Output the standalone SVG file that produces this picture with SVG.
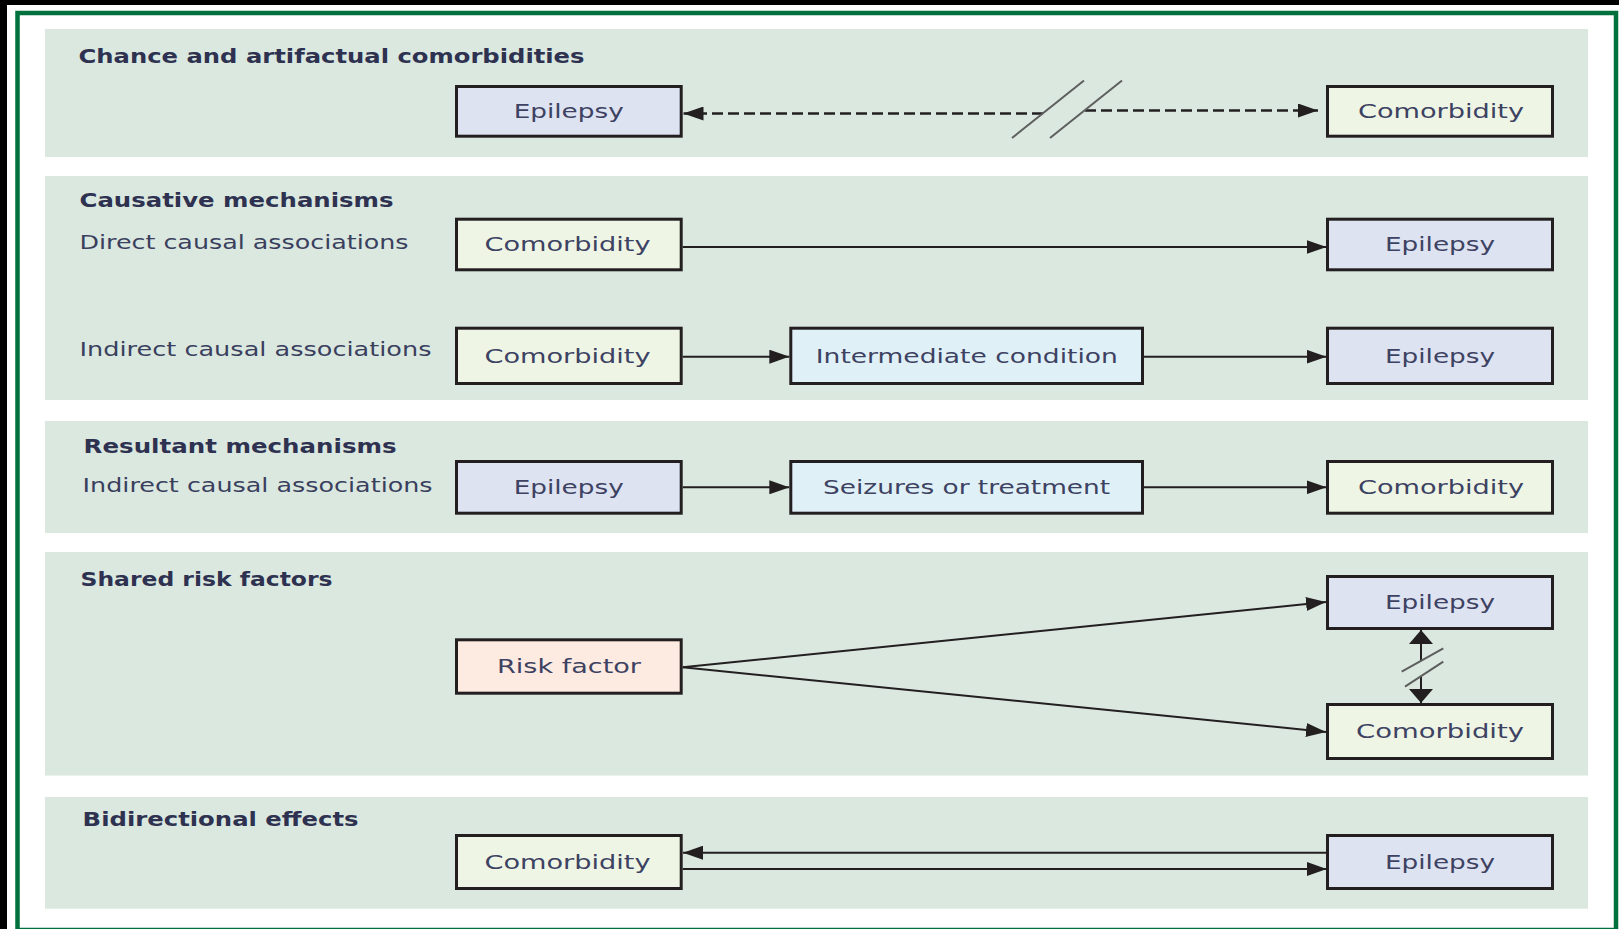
<svg xmlns="http://www.w3.org/2000/svg" width="1619" height="929" viewBox="0 0 1619 929">
<defs>
<style>
.panel{fill:#dae8e0;}
.box{stroke:#231f20;stroke-width:3;}
.epi{fill:#dde3f1;}
.com{fill:#eef5e5;}
.mid{fill:#e0f0f7;}
.risk{fill:#fdeae0;}
.hdr{font-family:"DejaVu Sans","Liberation Sans",Arial,sans-serif;font-size:20px;font-weight:bold;fill:#2e3250;}
.sub{font-family:"DejaVu Sans","Liberation Sans",Arial,sans-serif;font-size:20px;fill:#3a3f5e;}
.lbl{font-family:"DejaVu Sans","Liberation Sans",Arial,sans-serif;font-size:20px;fill:#3d4262;text-anchor:middle;}
.ln{stroke:#231f20;stroke-width:2;fill:none;}
.dash{stroke:#231f20;stroke-width:2.5;fill:none;stroke-dasharray:11 5;}
.brk{stroke:#5e5e5e;stroke-width:2;fill:none;}
</style>
<marker id="ah" markerUnits="userSpaceOnUse" markerWidth="20" markerHeight="14" refX="20" refY="7" orient="auto" viewBox="0 0 20 14">
<path d="M0,0 L20,7 L0,14 Z" fill="#231f20"/>
</marker>
<marker id="av" markerUnits="userSpaceOnUse" markerWidth="14" markerHeight="24" refX="14" refY="12" orient="auto" viewBox="0 0 14 24">
<path d="M0,0 L14,12 L0,24 Z" fill="#231f20"/>
</marker>
</defs>

<rect x="0" y="0" width="1619" height="929" fill="#ffffff"/>
<rect x="0" y="0" width="1619" height="5" fill="#000000"/>
<rect x="0" y="0" width="7" height="929" fill="#000000"/>
<rect x="17.5" y="13" width="1598.5" height="917" fill="none" stroke="#00703c" stroke-width="4.5"/>

<g id="panels">
<rect class="panel" x="45" y="29" width="1543" height="128"/>
<rect class="panel" x="45" y="176" width="1543" height="224"/>
<rect class="panel" x="45" y="421" width="1543" height="112"/>
<rect class="panel" x="45" y="552" width="1543" height="223.5"/>
<rect class="panel" x="45" y="797" width="1543" height="111.7"/>
</g>

<g id="headers">
<text class="hdr" x="78.5" y="63" textLength="506" lengthAdjust="spacingAndGlyphs">Chance and artifactual comorbidities</text>
<text class="hdr" x="79.5" y="206.5" textLength="314" lengthAdjust="spacingAndGlyphs">Causative mechanisms</text>
<text class="sub" x="79.5" y="248.5" textLength="329" lengthAdjust="spacingAndGlyphs">Direct causal associations</text>
<text class="sub" x="79.5" y="356" textLength="352" lengthAdjust="spacingAndGlyphs">Indirect causal associations</text>
<text class="hdr" x="83.6" y="452.5" textLength="313" lengthAdjust="spacingAndGlyphs">Resultant mechanisms</text>
<text class="sub" x="82.6" y="491.5" textLength="350" lengthAdjust="spacingAndGlyphs">Indirect causal associations</text>
<text class="hdr" x="80.5" y="585.5" textLength="252" lengthAdjust="spacingAndGlyphs">Shared risk factors</text>
<text class="hdr" x="82.6" y="826" textLength="276" lengthAdjust="spacingAndGlyphs">Bidirectional effects</text>
</g>

<g id="connectors">
<path class="dash" d="M1043,113.5 L683.5,113.5" marker-end="url(#ah)"/>
<path class="dash" d="M1085,110.5 L1318,110.5" marker-end="url(#ah)"/>
<path class="brk" d="M1012,138 L1084,80.5"/>
<path class="brk" d="M1050,138 L1122,80.5"/>
<path class="ln" d="M682.7,247 L1326.5,247" marker-end="url(#ah)"/>
<path class="ln" d="M682.7,356.7 L789.3,356.7" marker-end="url(#ah)"/>
<path class="ln" d="M1143.3,356.7 L1326.5,356.7" marker-end="url(#ah)"/>
<path class="ln" d="M682.7,487.3 L789.3,487.3" marker-end="url(#ah)"/>
<path class="ln" d="M1144,487.3 L1326.5,487.3" marker-end="url(#ah)"/>
<path class="ln" d="M682.7,667.3 L1326,602" marker-end="url(#ah)"/>
<path class="ln" d="M682.7,667.3 L1326,732" marker-end="url(#ah)"/>
<path class="ln" d="M1421,661 L1421,630" marker-end="url(#av)"/>
<path class="ln" d="M1421,676.4 L1421,703" marker-end="url(#av)"/>
<path class="brk" d="M1401.7,671.7 L1443.3,648.3"/>
<path class="brk" d="M1405,686.7 L1443.3,661.7"/>
<path class="ln" d="M1326.7,852.7 L683,852.7" marker-end="url(#ah)"/>
<path class="ln" d="M682.7,869 L1326.7,869" marker-end="url(#ah)"/>
</g>

<g id="n1-epilepsy">
<rect class="box epi" x="456.5" y="86.5" width="224.7" height="49.7"/>
<text class="lbl" x="568.7" y="117.5" textLength="110" lengthAdjust="spacingAndGlyphs">Epilepsy</text>
</g>
<g id="n1-comorbidity">
<rect class="box com" x="1327.5" y="86.5" width="225" height="49.7"/>
<text class="lbl" x="1441" y="117.5" textLength="166" lengthAdjust="spacingAndGlyphs">Comorbidity</text>
</g>

<g id="n2-comorbidity">
<rect class="box com" x="456.5" y="219.2" width="224.7" height="50.6"/>
<text class="lbl" x="567.5" y="251" textLength="166" lengthAdjust="spacingAndGlyphs">Comorbidity</text>
</g>
<g id="n2-epilepsy">
<rect class="box epi" x="1327.5" y="219.2" width="225" height="50.6"/>
<text class="lbl" x="1440" y="251" textLength="110" lengthAdjust="spacingAndGlyphs">Epilepsy</text>
</g>

<g id="n3-comorbidity">
<rect class="box com" x="456.5" y="328.2" width="224.7" height="55.3"/>
<text class="lbl" x="567.5" y="362.5" textLength="166" lengthAdjust="spacingAndGlyphs">Comorbidity</text>
</g>
<g id="n3-intermediate">
<rect class="box mid" x="790.8" y="328.2" width="351.7" height="55.3"/>
<text class="lbl" x="966.8" y="362.5" textLength="302" lengthAdjust="spacingAndGlyphs">Intermediate condition</text>
</g>
<g id="n3-epilepsy">
<rect class="box epi" x="1327.5" y="328.2" width="225" height="55.3"/>
<text class="lbl" x="1440" y="362.5" textLength="110" lengthAdjust="spacingAndGlyphs">Epilepsy</text>
</g>

<g id="n4-epilepsy">
<rect class="box epi" x="456.5" y="461.5" width="224.7" height="51.7"/>
<text class="lbl" x="568.7" y="493.5" textLength="110" lengthAdjust="spacingAndGlyphs">Epilepsy</text>
</g>
<g id="n4-seizures">
<rect class="box mid" x="790.8" y="461.5" width="351.7" height="51.7"/>
<text class="lbl" x="966.6" y="493.5" textLength="287" lengthAdjust="spacingAndGlyphs">Seizures or treatment</text>
</g>
<g id="n4-comorbidity">
<rect class="box com" x="1327.5" y="461.5" width="225" height="51.7"/>
<text class="lbl" x="1441" y="493.5" textLength="166" lengthAdjust="spacingAndGlyphs">Comorbidity</text>
</g>

<g id="n5-risk">
<rect class="box risk" x="456.5" y="639.8" width="224.7" height="53.4"/>
<text class="lbl" x="569" y="672.5" textLength="144" lengthAdjust="spacingAndGlyphs">Risk factor</text>
</g>
<g id="n5-epilepsy">
<rect class="box epi" x="1327.5" y="576.5" width="225" height="52"/>
<text class="lbl" x="1440" y="609" textLength="110" lengthAdjust="spacingAndGlyphs">Epilepsy</text>
</g>
<g id="n5-comorbidity">
<rect class="box com" x="1327.5" y="704.5" width="225" height="54"/>
<text class="lbl" x="1440" y="737.5" textLength="168" lengthAdjust="spacingAndGlyphs">Comorbidity</text>
</g>

<g id="n6-comorbidity">
<rect class="box com" x="456.5" y="835.5" width="224.7" height="53"/>
<text class="lbl" x="567.5" y="868.5" textLength="166" lengthAdjust="spacingAndGlyphs">Comorbidity</text>
</g>
<g id="n6-epilepsy">
<rect class="box epi" x="1327.5" y="835.5" width="225" height="53"/>
<text class="lbl" x="1440" y="868.5" textLength="110" lengthAdjust="spacingAndGlyphs">Epilepsy</text>
</g>
</svg>
